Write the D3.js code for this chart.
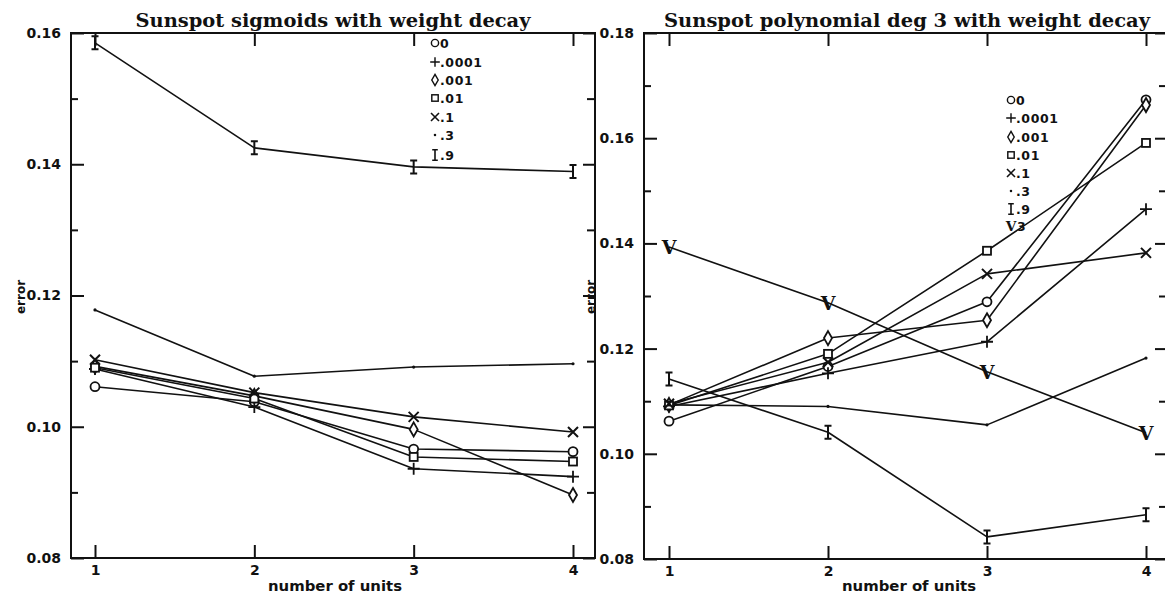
<!DOCTYPE html>
<html><head><meta charset="utf-8">
<script src="https://cdn.jsdelivr.net/npm/d3@7"></script>
<style>
html,body{margin:0;padding:0;background:#fff;}
svg{display:block;}
.tick text{font-family:"DejaVu Sans",sans-serif;font-weight:bold;font-size:14px;fill:#111;}
.tick line{stroke:#111;stroke-width:2;}
</style></head>
<body>
<svg id="chart" width="1165" height="598"></svg>
<script>
// ---------- data ----------
const units = [1, 2, 3, 4];
const yTicksLeft = [0.08, 0.10, 0.12, 0.14, 0.16];
const yMinorLeft = [0.09, 0.11, 0.13, 0.15];
const yTicksRight = [0.08, 0.10, 0.12, 0.14, 0.16, 0.18];
const yMinorRight = [0.09, 0.11, 0.13, 0.15, 0.17];

const leftTitle = "Sunspot sigmoids with weight decay";
const rightTitle = "Sunspot polynomial deg 3 with weight decay";
const xTitle = "number of units";
const yTitle = "error";

// left panel: sigmoids, error per number of units, one array per weight decay
const sigDecayLabels = ["0", ".0001", ".001", ".01", ".1", ".3", ".9"];
const sigMarkers = ["circle", "plus", "diamond", "square", "cross", "dot", "ibar"];
const sig_0     = [0.1061, 0.1038, 0.0966, 0.0962];
const sig_0001  = [0.1088, 0.1030, 0.0936, 0.0924];
const sig_001   = [0.1092, 0.1047, 0.0996, 0.0896];
const sig_01    = [0.1090, 0.1043, 0.0954, 0.0947];
const sig_1     = [0.1102, 0.1052, 0.1015, 0.0992];
const sig_3     = [0.1178, 0.1077, 0.1091, 0.1096];
const sig_9     = [0.1585, 0.1425, 0.1396, 0.1389];

// right panel: polynomial deg 3
const polyDecayLabels = ["0", ".0001", ".001", ".01", ".1", ".3", ".9", "3"];
const polyMarkers = ["circle", "plus", "diamond", "square", "cross", "dot", "ibar", "vee"];
const poly_0    = [0.1062, 0.1166, 0.1289, 0.1673];
const poly_0001 = [0.1090, 0.1153, 0.1213, 0.1465];
const poly_001  = [0.1093, 0.1220, 0.1254, 0.1663];
const poly_01   = [0.1092, 0.1190, 0.1386, 0.1591];
const poly_1    = [0.1095, 0.1174, 0.1342, 0.1382];
const poly_3    = [0.1093, 0.1090, 0.1055, 0.1182];
const poly_9    = [0.1142, 0.1041, 0.0842, 0.0884];
const poly_30   = [0.1393, 0.1287, 0.1156, 0.1040];

const sigSeries = [sig_0, sig_0001, sig_001, sig_01, sig_1, sig_3, sig_9];
const polySeries = [poly_0, poly_0001, poly_001, poly_01, poly_1, poly_3, poly_9, poly_30];

// ---------- drawing ----------
const svg = d3.select("#chart");
const INK = "#111";

function marker(g, type, x, y, s) {
  s = s || 1;
  const m = g.append("g").attr("transform", `translate(${x},${y}) scale(${s})`)
    .attr("stroke", INK).attr("stroke-width", 1.8).attr("fill", "none");
  if (type === "circle") m.append("circle").attr("r", 4.5).attr("fill", "#fff");
  else if (type === "plus") m.append("path").attr("d", "M-6,0H6M0,-6V6");
  else if (type === "diamond") m.append("path").attr("d", "M0,-7L4,0L0,7L-4,0Z").attr("fill", "#fff");
  else if (type === "square") m.append("rect").attr("x", -4).attr("y", -4).attr("width", 8).attr("height", 8).attr("fill", "#fff");
  else if (type === "cross") m.append("path").attr("d", "M-5,-5L5,5M5,-5L-5,5").attr("stroke-width", 2);
  else if (type === "dot") m.append("circle").attr("r", 1.6).attr("fill", INK).attr("stroke", "none");
  else if (type === "ibar") m.append("path").attr("d", "M0,-6.5V6.5M-3.5,-6.5H3.5M-3.5,6.5H3.5").attr("stroke-width", 2);
  else if (type === "vee") m.append("text").text("V").attr("text-anchor", "middle").attr("dy", "0.36em")
    .attr("font-family", "DejaVu Serif, serif").attr("font-weight", "bold").attr("font-size", 19)
    .attr("fill", INK).attr("stroke", "none");
  return m;
}

function panel(cfg) {
  const { box, xr, yDom, yMaj, yMin, series, markers, labels, title, legend, titleX, titleLen, xLabelX, errX } = cfg;
  const x = d3.scaleLinear().domain([1, 4]).range(xr);
  const y = d3.scaleLinear().domain(yDom).range([box.y1, box.y0]);
  const g = svg.append("g");

  // axes (ticks inward)
  g.append("g").attr("transform", `translate(${box.x0},0)`)
    .call(d3.axisLeft(y).tickValues(yMaj).tickSize(-13).tickPadding(10).tickFormat(d3.format(".2f")));
  g.append("g").attr("transform", `translate(${box.x0},0)`)
    .call(d3.axisLeft(y).tickValues(yMin).tickSize(-7).tickFormat(""));
  g.append("g").attr("transform", `translate(${box.x1},0)`)
    .call(d3.axisRight(y).tickValues(yMaj).tickSize(-12).tickFormat(""));
  g.append("g").attr("transform", `translate(${box.x1},0)`)
    .call(d3.axisRight(y).tickValues(yMin).tickSize(-8).tickFormat(""));
  g.append("g").attr("transform", `translate(0,${box.y1})`)
    .call(d3.axisBottom(x).tickValues(units).tickSize(-13).tickPadding(7).tickFormat(d3.format("d")));
  g.append("g").attr("transform", `translate(0,${box.y0})`)
    .call(d3.axisTop(x).tickValues(units).tickSize(-13).tickFormat(""));
  g.selectAll(".domain").remove();

  // frame
  g.append("rect").attr("x", box.x0).attr("y", box.y0)
    .attr("width", box.x1 - box.x0).attr("height", box.y1 - box.y0)
    .attr("fill", "none").attr("stroke", INK).attr("stroke-width", 2);

  // lines
  const line = d3.line().x((d, i) => x(units[i])).y(d => y(d));
  series.forEach(s => {
    g.append("path").datum(s).attr("d", line)
      .attr("fill", "none").attr("stroke", INK).attr("stroke-width", 1.6).attr("stroke-linejoin", "round");
  });
  series.forEach((s, k) => {
    s.forEach((v, i) => marker(g, markers[k], x(units[i]), y(v)));
  });

  // legend
  labels.forEach((lab, k) => {
    const ly = legend.y[k];
    marker(g, markers[k], legend.x, ly, markers[k] === "vee" ? 0.72 : 0.8);
    g.append("text").attr("x", legend.x + (markers[k] === "vee" ? 6 : 5)).attr("y", ly).attr("dy", "0.36em")
      .attr("font-family", "DejaVu Sans, sans-serif").attr("font-weight", "bold")
      .attr("font-size", 12.5).attr("letter-spacing", 0.6).attr("fill", INK).text(lab);
  });

  // titles
  g.append("text").attr("x", titleX).attr("y", 27).attr("text-anchor", "middle")
    .attr("font-family", "DejaVu Serif, serif").attr("font-weight", "bold").attr("font-size", 18)
    .attr("textLength", titleLen).attr("lengthAdjust", "spacingAndGlyphs")
    .attr("fill", INK).text(title);
  g.append("text").attr("x", xLabelX).attr("y", 591).attr("text-anchor", "middle")
    .attr("font-family", "DejaVu Sans, sans-serif").attr("font-weight", "bold").attr("font-size", 14)
    .attr("textLength", 134).attr("lengthAdjust", "spacingAndGlyphs")
    .attr("fill", INK).text(xTitle);
  g.append("text").attr("transform", `translate(${errX},297) rotate(-90)`).attr("text-anchor", "middle")
    .attr("dy", "0.36em")
    .attr("font-family", "DejaVu Sans, sans-serif").attr("font-weight", "bold").attr("font-size", 12)
    .attr("fill", INK).text(yTitle);
}

panel({
  box: { x0: 71, x1: 595, y0: 33, y1: 558 },
  xr: [95, 573], yDom: [0.08, 0.16], yMaj: yTicksLeft, yMin: yMinorLeft,
  series: sigSeries, markers: sigMarkers, labels: sigDecayLabels, title: leftTitle,
  legend: { x: 435, y: [43, 62, 80, 98, 117, 135, 155] },
  titleX: 333, titleLen: 395, xLabelX: 335, errX: 21
});
panel({
  box: { x0: 644, x1: 1167, y0: 33, y1: 559 },
  xr: [669, 1146], yDom: [0.08, 0.18], yMaj: yTicksRight, yMin: yMinorRight,
  series: polySeries, markers: polyMarkers, labels: polyDecayLabels, title: rightTitle,
  legend: { x: 1011, y: [100, 118, 137, 155, 173, 191, 209, 226] },
  titleX: 907, titleLen: 486, xLabelX: 909, errX: 591
});
</script>
</body></html>
